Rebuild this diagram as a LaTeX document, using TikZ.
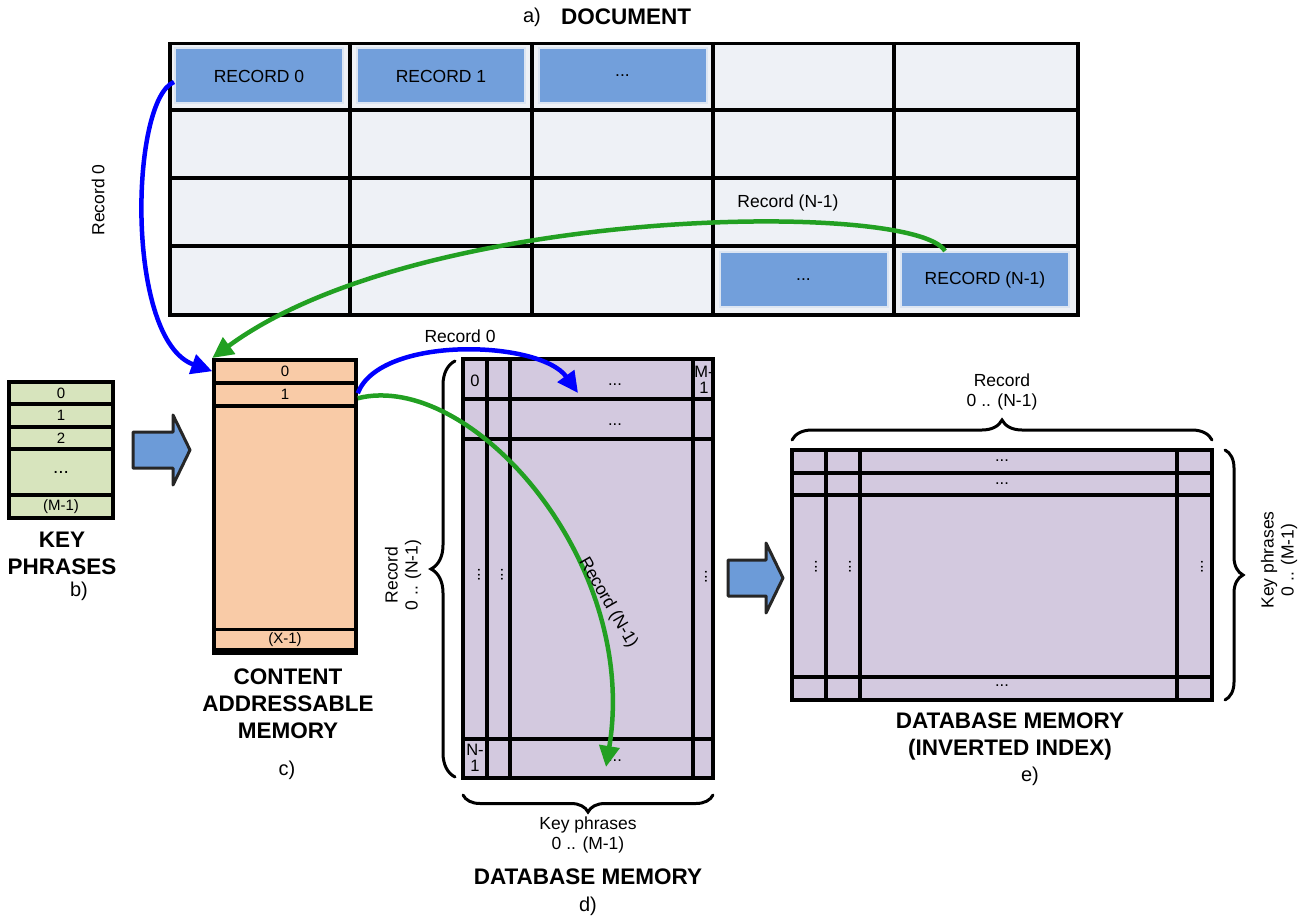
\documentclass[tikz,border=0pt]{standalone}
\usepackage{fontspec}
\setmainfont{Liberation Sans}
\usetikzlibrary{arrows.meta,decorations.pathreplacing,calc}

\definecolor{cellfill}{HTML}{EEF1F6}
\definecolor{recblue}{HTML}{729FDB}
\definecolor{recedge}{HTML}{DCE5F2}
\definecolor{keygreen}{HTML}{D7E4BD}
\definecolor{camorange}{HTML}{F9CBA7}
\definecolor{dbpurple}{HTML}{D3C9DF}
\definecolor{bigarrow}{HTML}{6C9BD8}
\definecolor{linkblue}{HTML}{0000FF}
\definecolor{linkgreen}{HTML}{22A022}

\tikzset{
  gridline/.style={line width=3.5pt, draw=black},
  lbl/.style={font=\fontsize{17.5}{20}\selectfont, inner sep=1pt},
  small/.style={font=\fontsize{15}{17}\selectfont, inner sep=0pt},
  cell/.style={font=\fontsize{16.5}{19}\selectfont, inner sep=0pt, align=center},
  ttl/.style={font=\bfseries\fontsize{22.5}{27}\selectfont, inner sep=0pt, align=center},
  tag/.style={font=\fontsize{20}{24}\selectfont, inner sep=0pt},
  recbox/.style={fill=recblue, draw=recedge, line width=2pt, minimum width=168,
    minimum height=55, inner sep=0pt, font=\fontsize{17.5}{20}\selectfont},
  block/.style={draw, line width=3.5pt, inner sep=0pt},
  keyrow/.style={block, fill=keygreen, minimum width=104, small},
  camrow/.style={block, fill=camorange, minimum width=142, small},
  link/.style={line width=4.5pt, -{Triangle[length=21pt,width=20pt]}},
  bigarr/.style={fill=bigarrow, draw=black!85, line width=3pt, line join=round},
  bracestyle/.style={decorate, line width=3pt, line cap=round},
}

\begin{document}
\begin{tikzpicture}[x=1pt,y=-1pt]
\useasboundingbox (0,0) rectangle (1306,920);

% ---------- a) document table ----------
\node[tag, anchor=east] (taga) at (541,17) {a)};
\node[ttl, anchor=west] (doctitle) at (561,17) {DOCUMENT};
\node[gridline, fill=cellfill, minimum width=908, minimum height=271, inner sep=0pt,
      anchor=north west] (doc) at (168,42) {};
\foreach \x in {350,532,713,894} \draw[gridline] (\x,42) -- (\x,313);
\foreach \y in {110,178,246} \draw[gridline] (168,\y) -- (1076,\y);
\node[recbox] (rec0) at (259,76) {RECORD 0};
\node[recbox] (rec1) at (441,76) {RECORD 1};
\node[recbox] (recd) at (622.5,76) {...};
\node[recbox] (recdb) at (803.5,279.5) {...};
\node[recbox] (recN) at (985,279.5) {RECORD (N-1)};

% ---------- b) key phrases ----------
\node[keyrow, minimum height=22] (kp0) at (61,393) {0};
\node[keyrow, minimum height=23] (kp1) at (61,415.5) {1};
\node[keyrow, minimum height=22] (kp2) at (61,438) {2};
\node[keyrow, minimum height=46, font=\fontsize{19}{20}\selectfont] (kpd) at (61,472) {...};
\node[keyrow, minimum height=23] (kpm) at (61,506.5) {(M-1)};
\node[ttl] (keytitle) at (62,553) {KEY\\PHRASES};
\node[tag] (tagb) at (79,591) {b)};

\draw[bigarr] (133,432) -- (173,432) -- (173,415) -- (190,450) -- (173,485)
  -- (173,468) -- (133,468) -- cycle;

% ---------- c) content addressable memory ----------
\node[camrow, minimum height=293, anchor=north] (cam) at (285,358) {};
\node[camrow, minimum height=23, anchor=north] (cam0) at (285,358) {0};
\node[camrow, minimum height=23, anchor=north] (cam1) at (285,381) {1};
\node[camrow, minimum height=20, anchor=south] (camx) at (285,651) {(X-1)};
\node[ttl] (camtitle) at (288,704) {CONTENT\\ADDRESSABLE\\MEMORY};
\node[tag] (tagc) at (287,770) {c)};

% ---------- d) database memory ----------
\node[block, fill=dbpurple, minimum width=250, minimum height=419] (db) at (588,568.5) {};
\foreach \x in {487,510,693} \draw[gridline] (\x,359) -- (\x,778);
\foreach \y in {399,439,739} \draw[gridline] (463,\y) -- (713,\y);
\node[cell] (db00) at (475,381) {0};
\node[cell] (db0m) at (704,380) {M-\\[-3pt]1};
\node[cell] (dbn0) at (475,758) {N-\\[-3pt]1};
\node[cell] (db0d) at (615,385) {...};
\node[cell] (db1d) at (615,425) {...};
\node[cell] (dbnd) at (615,761) {...};
\node[cell, rotate=90] (dbv1) at (479,575) {...};
\node[cell, rotate=90] (dbv2) at (502,575) {...};
\node[cell, rotate=90] (dbv3) at (706,577) {...};
\coordinate (dbtip0) at (578,393);
\coordinate (dbtipn) at (606,767);

\draw[bracestyle, decoration={brace, amplitude=24pt}] (455,777) -- (455,361);
\node[lbl, rotate=90, align=center] (dbrec) at (403,575) {Record\\0 .. (N-1)};
\draw[bracestyle, decoration={brace, amplitude=17pt}] (713,795) -- (463,795);
\node[lbl, align=center] (dbkey) at (588,835) {Key phrases\\0 .. (M-1)};
\node[ttl] (dbtitle) at (588,877) {DATABASE MEMORY};
\node[tag] (tagd) at (588,906) {d)};

\draw[bigarr] (728,560) -- (766,560) -- (766,543) -- (783,578) -- (766,613)
  -- (766,596) -- (728,596) -- cycle;

% ---------- e) inverted index ----------
\node[block, fill=dbpurple, minimum width=420, minimum height=250] (inv) at (1002,575) {};
\foreach \x in {826,860,1177} \draw[gridline] (\x,450) -- (\x,700);
\foreach \y in {473,495,677} \draw[gridline] (792,\y) -- (1212,\y);
\node[cell] (inv0d) at (1002,461) {...};
\node[cell] (inv1d) at (1002,484) {...};
\node[cell] (invnd) at (1002,686) {...};
\node[cell, rotate=90] (invv1) at (816,567) {...};
\node[cell, rotate=90] (invv2) at (850,567) {...};
\node[cell, rotate=90] (invv3) at (1202,567) {...};

\draw[bracestyle, decoration={brace, amplitude=20pt}] (792,440) -- (1212,440);
\node[lbl, align=center] (invrec) at (1002,392) {Record\\0 .. (N-1)};
\draw[bracestyle, decoration={brace, amplitude=18pt}] (1225,450) -- (1225,700);
\node[lbl, rotate=90, align=center] (invkey) at (1279,560) {Key phrases\\0 .. (M-1)};
\node[ttl] (invtitle) at (1010,736) {DATABASE MEMORY\\(INVERTED INDEX)};
\node[tag] (tage) at (1030,776) {e)};

% ---------- record links ----------
\draw[link, linkblue] ($(rec0.west)+(0,6)$) .. controls (130,100) and (125,340) .. (cam0.west);
\node[lbl, rotate=90] (lblr0a) at (98,200) {Record 0};

\draw[link, linkgreen] ($(recN.north)+(-40,0)$) .. controls (915,200) and (420,205) .. (cam0.north west);
\node[lbl] (lblrna) at (788,203) {Record (N-1)};

\draw[link, linkblue] ($(cam1.east)+(0,-1)$) .. controls (380,335) and (540,340) .. (dbtip0);
\node[lbl] (lblr0b) at (460,336) {Record 0};

\draw[link, linkgreen] ($(cam1.east)+(0,4)$) .. controls (470,370) and (640,560) .. (dbtipn);
\node[lbl, rotate=-60] (lblrnb) at (608,603) {Record (N-1)};
\end{tikzpicture}
\end{document}
